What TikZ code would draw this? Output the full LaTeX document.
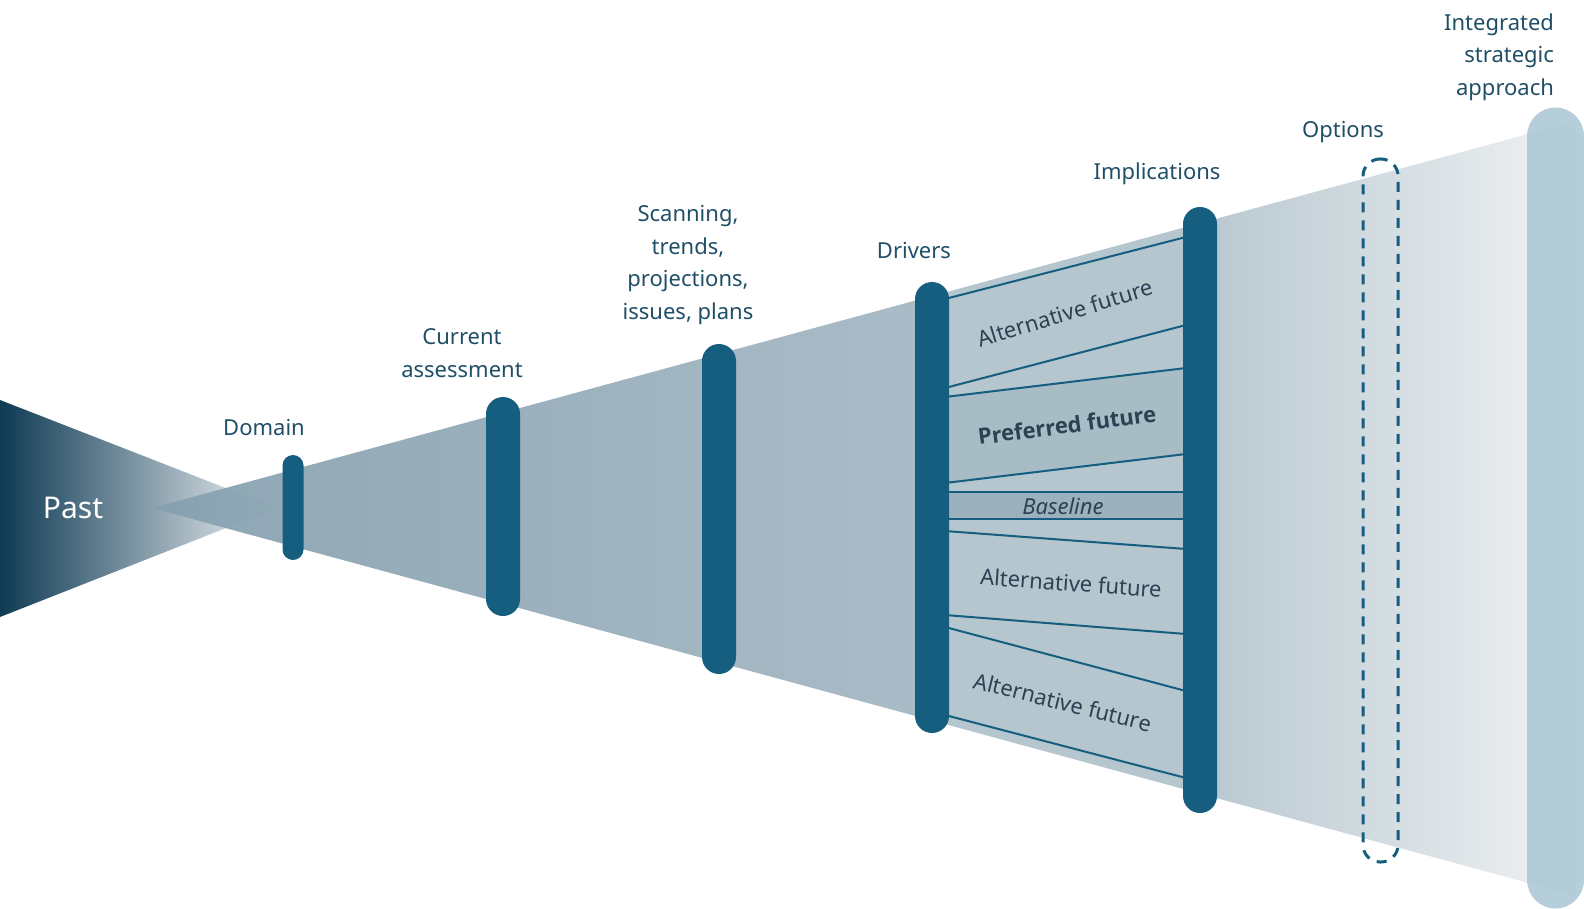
\documentclass[tikz,border=0pt]{standalone}
\usepackage{fontspec}
\setmainfont{Noto Sans}[BoldFont={Open Sans Bold}]
\usepackage{tikz}
\usetikzlibrary{positioning,backgrounds,calc}
\definecolor{barblue}{HTML}{165E80}
\definecolor{labelblue}{HTML}{1F4E66}
\definecolor{pastdark}{HTML}{0E3A54}
\definecolor{coneA}{HTML}{86A0AF}
\definecolor{coneB}{HTML}{A5B8C3}
\definecolor{futzone}{HTML}{B5C6CF}
\definecolor{prefzone}{HTML}{A8BCC6}
\definecolor{basezone}{HTML}{9BB1BD}
\definecolor{coneC}{HTML}{B8C8D0}
\definecolor{coneD}{HTML}{F0F2F3}
\definecolor{intblue}{HTML}{A9C6D4}
\definecolor{futtext}{HTML}{2B4253}

\begin{document}
\begin{tikzpicture}[x=0.5pt,y=-0.5pt,
    bar/.style={fill=barblue, rounded corners=8.5pt, minimum width=17pt, inner sep=0pt},
    lbl/.style={text=labelblue, align=center, font=\fontsize{11}{16.25}\selectfont},
    futlbl/.style={text=futtext, font=\fontsize{11}{13}\selectfont, inner sep=0pt},
    fline/.style={draw=barblue, line width=1pt}]
  \useasboundingbox (0,0) rectangle (1584,909);

  % past
  \shade[left color=pastdark, right color=white!90!coneA] (0,400) -- (277,508) -- (0,617) -- cycle;
  \node[text=white, font=\fontsize{15}{18}\selectfont] (past) at (73,508) {Past};

  % cone
  \begin{scope}
    \clip (152,508) -- (1576,121) -- (1576,896) -- cycle;
    \shade[left color=coneA, right color=coneB, opacity=.94] (150,100) rectangle (932,920);
    \fill[futzone] (932,100) rectangle (1200,920);
    \shade[left color=coneC, right color=coneD] (1200,100) rectangle (1577,920);
  \end{scope}

  % futures
  \fill[prefzone] (949,397) -- (1183,368) -- (1183,454) -- (949,483) -- cycle;
  \fill[basezone] (949,492) rectangle (1183,519);
  \foreach \a/\b in {299/237, 388/325, 397/368, 483/454, 492/492,
                     519/519, 531/549, 615/634, 627/691, 715/778}
    \draw[fline] (945,\a) -- (1186,\b);

  \node[futlbl, rotate=17] (alt1) at (1065,313) {Alternative future};
  \node[futlbl, rotate=7.5, font=\fontsize{11}{13}\selectfont\bfseries] (pref) at (1067,425) {Preferred future};
  \node[futlbl, font=\fontsize{11}{13}\selectfont\itshape] (base) at (1063,506) {Baseline};
  \node[futlbl, rotate=-4] (alt2) at (1071,583) {Alternative future};
  \node[futlbl, rotate=-14] (alt3) at (1063,702) {Alternative future};

  % bars
  \node[bar, minimum width=10.5pt, rounded corners=5.25pt, minimum height=52.5pt] (domain) at (293,507.5) {};
  \node[bar, minimum height=109.5pt] (current) at (503,506.5) {};
  \node[bar, minimum height=165pt] (scan) at (719,509) {};
  \node[bar, minimum height=225.5pt] (drivers) at (932,507.5) {};
  \node[bar, minimum height=303pt] (impl) at (1200,510) {};
  \node[draw=barblue, line width=1.5pt, dash pattern=on 5pt off 4pt, rounded corners=8.5pt,
        minimum width=17.5pt, minimum height=351.5pt, inner sep=0pt] (opts) at (1380.5,510.5) {};
  \node[fill=intblue, opacity=.85, rounded corners=14.25pt, minimum width=28.5pt,
        minimum height=400.5pt, inner sep=0pt] (integ) at (1555.5,508) {};

  % labels
  \node[lbl] (domainl) at (264,428) {Domain};
  \node[lbl] (currentl) at (462,353) {Current\\assessment};
  \node[lbl] (scanl) at (688,265) {Scanning,\\trends,\\projections,\\issues, plans};
  \node[lbl] (driversl) at (914,251) {Drivers};
  \node[lbl] (impll) at (1157,174) {Implications};
  \node[lbl] (optsl) at (1343,132) {Options};
  \node[lbl, align=right, anchor=east] (integl) at (1561,57) {Integrated\\strategic\\approach};
\end{tikzpicture}
\end{document}
